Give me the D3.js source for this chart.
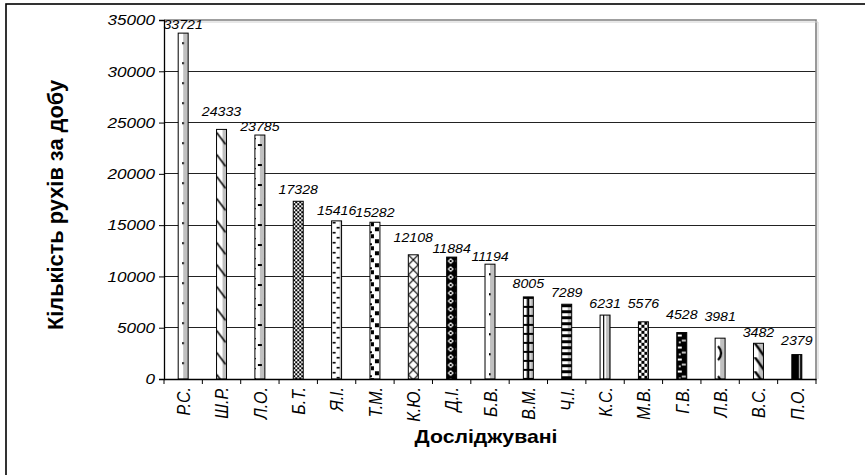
<!DOCTYPE html>
<html><head><meta charset="utf-8">
<script src="https://cdn.jsdelivr.net/npm/d3@7"></script>
<style>
html,body{margin:0;padding:0;background:#fff;}
text{font-family:Arial,"Liberation Sans",sans-serif;}
</style></head>
<body><svg id="c" width="865" height="475"></svg>
<script>
// ---- data ----
const categories = ["Р.С.","Ш.Р.","Л.О.","Б.Т.","Я.І.","Т.М.","К.Ю.","Д.І.","Б.В.","В.М.","Ч.І.","К.С.","М.В.","Г.В.","Л.В.","В.С.","П.О."];
const values = [33721,24333,23785,17328,15416,15282,12108,11884,11194,8005,7289,6231,5576,4528,3981,3482,2379];
const yTicks = [0,5000,10000,15000,20000,25000,30000,35000];
const yTitle = "Кількість рухів за добу";
const xTitle = "Досліджувані";
// label lift above bar top (layout only)
const labelLift = [4,13,4,7,6,5,13,4,3,9,7,7,14,14,17,6,10];

// ---- layout ----
const L = 164, R = 816, T = 20, B = 379, SX = 1.18;
const G = "#c0c0c0", K = "#000", W = "#fff";
const svg = d3.select("#c");
const x = d3.scaleBand().domain(categories).range([L, R]).paddingInner(0.74).paddingOuter(0.37);
const xb = d3.scaleBand().domain(categories).range([L, R]);
const y = d3.scaleLinear().domain([0, 35000]).range([B, T]);

// outer border
svg.append("rect").attr("x",6).attr("y",4).attr("width",880).attr("height",500)
  .attr("fill","none").attr("stroke","#000").attr("stroke-width",1.6);

// patterns
const defs = svg.append("defs");
function r(p,x0,y0,w,h,f){p.append("rect").attr("x",x0).attr("y",y0).attr("width",w).attr("height",h).attr("fill",f);}
function pth(p,d,st,sw,fill){p.append("path").attr("d",d).attr("stroke",st||"none").attr("stroke-width",sw||0).attr("fill",fill||"none");}
const patterns = [
  {w:10,h:20,draw:p=>{r(p,0,0,5,20,W);r(p,5,0,5,20,G);r(p,4,9,1.6,2.2,K);}},
  {w:10,h:22,draw:p=>{r(p,0,0,6,22,W);r(p,6,0,4,22,G);pth(p,"M0,3 L9,15",K,1.5);}},
  {w:10,h:20,draw:p=>{r(p,0,0,5,20,W);r(p,5,0,5,20,G);r(p,3,9,4,2,K);r(p,0,3,1,1.2,K);r(p,0,13,1,1.2,K);}},
  {w:4,h:4,draw:p=>{r(p,0,0,4,4,K);r(p,0,0,2,2,W);r(p,2,2,2,2,W);}},
  {w:10,h:10,draw:p=>{r(p,0,0,10,10,W);r(p,8,0,2,10,G);r(p,1,1,3,1.6,K);r(p,5,6,3,1.6,K);}},
  {w:10,h:12,draw:p=>{r(p,0,0,10,12,W);r(p,1,0,3,4,K);r(p,5,5,4,4,K);r(p,0,9,2,2,K);}},
  {w:10,h:10,draw:p=>{r(p,0,0,10,10,W);pth(p,"M0,0 L10,10 M10,0 L0,10",K,1.2);}},
  {w:8,h:8,draw:p=>{r(p,0,0,8,8,K);pth(p,"M4,1 L7,4 L4,7 L1,4 Z",null,0,W);r(p,3,3,2,2,K);}},
  {w:10,h:20,draw:p=>{r(p,0,0,5,20,W);r(p,5,0,5,20,G);r(p,4,9,1.6,2.2,K);}},
  {w:10,h:9,draw:p=>{r(p,0,0,10,9,W);r(p,7,0,3,9,G);r(p,0,0,10,2,K);r(p,3.5,0,2.5,9,K);}},
  {w:10,h:6,draw:p=>{r(p,0,0,10,6,W);r(p,6,0,4,6,G);r(p,0,0,10,3,K);}},
  {w:10,h:10,draw:p=>{r(p,0,0,10,10,W);r(p,3,0,1.2,10,K);r(p,6,0,3,10,G);r(p,9,0,1,10,"#808080");}},
  {w:6,h:6,draw:p=>{r(p,0,0,6,6,W);r(p,0,0,3,3,K);r(p,3,3,3,3,K);}},
  {w:10,h:12,draw:p=>{r(p,0,0,10,12,K);r(p,1,2,4,2,W);r(p,5,7,4,2,G);r(p,2,9,2,1.5,W);}},
  {w:10,h:30,draw:p=>{r(p,0,0,5,30,W);r(p,5,0,5,30,G);pth(p,"M3,8 Q9,15 3,22",K,2.2);}},
  {w:10,h:14,draw:p=>{r(p,0,0,5,14,W);r(p,5,0,5,14,G);pth(p,"M0,0 L3,0 L10,10 L10,14 Z",null,0,K);}},
  {w:10,h:10,draw:p=>{r(p,0,0,10,10,K);r(p,7,0,1.2,10,G);}}
];
categories.forEach((c,i)=>{
  const pd = patterns[i];
  const p = defs.append("pattern").attr("id","p"+i).attr("patternUnits","userSpaceOnUse")
    .attr("x", x(c)).attr("y", y(values[i])).attr("width", pd.w).attr("height", pd.h);
  pd.draw(p);
});

// gridlines
svg.append("g").selectAll("line").data(yTicks.filter(v=>v>0 && v<35000)).join("line")
  .attr("x1",L).attr("x2",R).attr("y1",d=>y(d)).attr("y2",d=>y(d))
  .attr("stroke","#222").attr("stroke-width",1).attr("shape-rendering","crispEdges");
// frame top/right (gray)
svg.append("path").attr("d",`M${L},${T}H${R}V${B}`).attr("fill","none")
  .attr("stroke","#808080").attr("stroke-width",1.6);
svg.append("path").attr("d",`M${L},${T+2}H${R+2}V${B}`).attr("fill","none")
  .attr("stroke","#d0d0d0").attr("stroke-width",1);

// bars
svg.append("g").selectAll("rect").data(values).join("rect")
  .attr("x",(d,i)=>x(categories[i])).attr("width",x.bandwidth())
  .attr("y",d=>y(d)).attr("height",d=>B-y(d))
  .attr("fill",(d,i)=>`url(#p${i})`).attr("stroke","#000").attr("stroke-width",1);

// axes
const yAxis = d3.axisLeft(y).tickValues(yTicks).tickSize(5).tickFormat("");
const gy = svg.append("g").attr("transform",`translate(${L},0)`).call(yAxis);
gy.select(".domain").attr("stroke","#000").attr("stroke-width",1.3);
gy.selectAll(".tick line").attr("stroke","#000");
const xAxis = d3.axisBottom(xb).tickSize(0).tickFormat("");
const gx = svg.append("g").attr("transform",`translate(0,${B})`).call(xAxis);
gx.select(".domain").attr("stroke","#000").attr("stroke-width",1.3);
gx.selectAll(".bnd").data(d3.range(categories.length+1)).join("line").attr("class","bnd")
  .attr("x1",i=>L+i*xb.step()).attr("x2",i=>L+i*xb.step()).attr("y1",0).attr("y2",5)
  .attr("stroke","#000");

// y tick labels
svg.append("g").selectAll("text").data(yTicks).join("text")
  .attr("transform",d=>`translate(155,${y(d)}) scale(${SX},1)`)
  .attr("text-anchor","end").attr("dy","0.36em")
  .style("font-size","14.5px").style("font-style","italic").text(d=>d);

// x tick labels
svg.append("g").selectAll("text").data(categories).join("text")
  .attr("transform",d=>`translate(${x(d)+x.bandwidth()/2},387) scale(${SX},1) rotate(-90)`)
  .attr("text-anchor","end").attr("dy","0.36em")
  .style("font-size","16px").style("font-style","italic").text(d=>d);

// value labels
svg.append("g").selectAll("text").data(values).join("text")
  .attr("transform",(d,i)=>`translate(${x(categories[i])+x.bandwidth()/2},${y(d)-labelLift[i]}) scale(${SX},1)`)
  .attr("text-anchor","middle")
  .style("font-size","12px").style("font-style","italic").text(d=>d);

// titles
svg.append("text").attr("transform",`translate(486,443) scale(${SX},1)`)
  .attr("text-anchor","middle").style("font-size","18px").style("font-weight","bold").text(xTitle);
svg.append("text").attr("transform",`translate(55,205) scale(${SX},1) rotate(-90)`)
  .attr("text-anchor","middle").attr("dy","0.36em").attr("textLength",250).attr("lengthAdjust","spacingAndGlyphs")
  .style("font-size","19px").style("font-weight","bold").text(yTitle);
</script></body></html>
